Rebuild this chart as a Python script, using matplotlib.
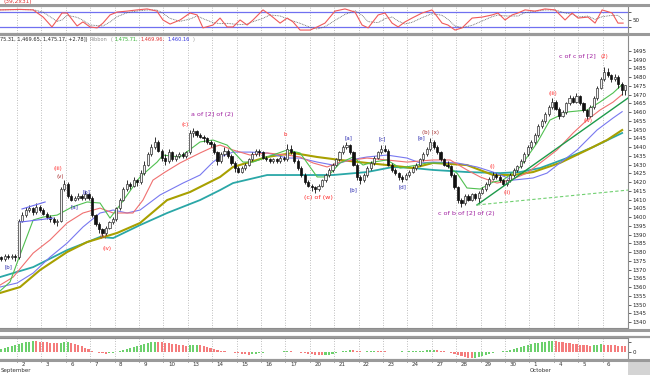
import numpy as np
import pandas as pd
import matplotlib
matplotlib.use('Agg')
import matplotlib.pyplot as plt
from matplotlib.lines import Line2D
from matplotlib.patches import Rectangle
from matplotlib.transforms import blended_transform_factory

# --- data (x in trading days, Sep 1 = day 0) ---
day_labels = ['2', '3', '6', '7', '8', '9', '10', '13', '14', '15', '16', '17', '20',
              '21', '22', '23', '24', '27', '28', '29', '30', '1', '4', '5', '6']
bars_per_day = 7
first_open = 1375

closes = [
    1376, 1377, 1376, 1378, 1377, 1378, 1377,
    1398, 1401, 1404, 1405, 1403, 1406, 1404,
    1402, 1400, 1399, 1397, 1398, 1416, 1419,
    1412, 1410, 1411, 1412, 1411, 1413, 1411,
    1401, 1396, 1393, 1391, 1394, 1397, 1399,
    1405, 1410, 1416, 1419, 1418, 1421, 1420,
    1425, 1430, 1436, 1440, 1443, 1438, 1434,
    1432, 1437, 1433, 1435, 1436, 1435, 1437,
    1448, 1449, 1447, 1446, 1445, 1443, 1442,
    1437, 1432, 1436, 1438, 1435, 1431, 1428,
    1426, 1428, 1430, 1433, 1436, 1438, 1437,
    1434, 1433, 1432, 1433, 1432, 1434, 1433,
    1439, 1437, 1432, 1428, 1424, 1420, 1418,
    1417, 1416, 1418, 1421, 1424, 1427, 1430,
    1433, 1437, 1440, 1441, 1437, 1430, 1423,
    1421, 1424, 1428, 1431, 1434, 1437, 1439,
    1438, 1430, 1427, 1425, 1423, 1422, 1424,
    1426, 1428, 1430, 1433, 1436, 1439, 1443,
    1440, 1437, 1433, 1430, 1429, 1424, 1417,
    1410, 1408, 1412, 1410, 1413, 1411, 1414,
    1416, 1419, 1422, 1424, 1423, 1421, 1419,
    1421, 1424, 1427, 1429, 1432, 1436, 1440,
    1443, 1447, 1452, 1455, 1459, 1463, 1466,
    1462, 1458, 1460, 1465, 1468, 1466, 1469,
    1465, 1461, 1458, 1463, 1468, 1474, 1479,
    1483, 1481, 1479, 1480, 1476, 1472.39, 1475.17,
]
highs = [
    1377, 1378, 1378, 1379, 1379, 1379, 1379,
    1399, 1403, 1406, 1407, 1406, 1408, 1407,
    1405, 1403, 1401, 1400, 1399, 1417, 1421,
    1420, 1413, 1412, 1414, 1413, 1415, 1414,
    1412, 1402, 1397, 1394, 1395, 1398, 1400,
    1406, 1411, 1417, 1421, 1420, 1423, 1422,
    1427, 1432, 1437, 1442, 1446, 1444, 1439,
    1436, 1439, 1438, 1436, 1437, 1437, 1438,
    1450, 1451, 1450, 1448, 1447, 1446, 1444,
    1443, 1438, 1437, 1440, 1439, 1436, 1432,
    1429, 1429, 1431, 1434, 1437, 1439, 1439,
    1438, 1435, 1434, 1434, 1434, 1435, 1435,
    1442, 1441, 1438, 1433, 1429, 1425, 1421,
    1419, 1418, 1419, 1422, 1425, 1428, 1431,
    1434, 1438, 1441, 1443, 1442, 1438, 1431,
    1424, 1425, 1429, 1432, 1435, 1438, 1441,
    1441, 1439, 1431, 1428, 1426, 1424, 1425,
    1427, 1429, 1431, 1434, 1437, 1440, 1445,
    1444, 1441, 1438, 1434, 1432, 1430, 1425,
    1418, 1411, 1413, 1413, 1414, 1414, 1415,
    1417, 1420, 1423, 1426, 1425, 1424, 1422,
    1422, 1425, 1428, 1430, 1433, 1437, 1441,
    1444, 1448, 1453, 1456, 1460, 1464, 1468,
    1467, 1463, 1461, 1466, 1470, 1469, 1471,
    1470, 1466, 1462, 1464, 1469, 1475, 1480,
    1486, 1485, 1482, 1482, 1481, 1477, 1475.31,
]
lows = [
    1374, 1375, 1375, 1375, 1376, 1376, 1375,
    1376, 1397, 1400, 1403, 1401, 1402, 1403,
    1401, 1399, 1397, 1396, 1395, 1397, 1415,
    1411, 1409, 1409, 1410, 1410, 1410, 1410,
    1400, 1395, 1391, 1389, 1390, 1393, 1396,
    1398, 1404, 1409, 1415, 1416, 1417, 1418,
    1419, 1424, 1429, 1435, 1439, 1437, 1432,
    1430, 1431, 1432, 1432, 1434, 1434, 1434,
    1436, 1446, 1446, 1445, 1443, 1442, 1440,
    1436, 1430, 1431, 1435, 1434, 1430, 1426,
    1425, 1425, 1427, 1429, 1432, 1435, 1435,
    1433, 1432, 1431, 1431, 1431, 1431, 1432,
    1432, 1436, 1431, 1427, 1423, 1419, 1417,
    1415, 1414, 1415, 1417, 1420, 1423, 1426,
    1429, 1432, 1436, 1439, 1436, 1429, 1421,
    1419, 1420, 1423, 1427, 1430, 1433, 1436,
    1437, 1429, 1426, 1424, 1421, 1420, 1421,
    1423, 1425, 1427, 1429, 1432, 1435, 1438,
    1439, 1436, 1432, 1429, 1428, 1423, 1416,
    1408, 1406, 1407, 1409, 1409, 1410, 1408,
    1413, 1415, 1418, 1421, 1422, 1420, 1418,
    1418, 1420, 1423, 1426, 1428, 1431, 1435,
    1439, 1442, 1446, 1451, 1454, 1458, 1462,
    1461, 1456, 1457, 1459, 1464, 1465, 1465,
    1464, 1460, 1456, 1457, 1462, 1467, 1473,
    1478, 1480, 1477, 1478, 1474, 1470, 1469.65,
]
hist_vals = [
    2, 3, 3, 4, 5, 6, 7,
    8, 9, 10, 10.5, 11, 10.8, 10.5,
    10.2, 9.8, 9.4, 9, 8.7, 9.2, 9.8,
    10, 9.5, 8.5, 7.5, 6, 4.5, 3,
    1.5, 0.5, -0.5, -1, -1.5, -1, -0.5,
    0.5, 1.5, 2.5, 3.5, 4.5, 5.5, 6.5,
    7.5, 8.5, 9.5, 10, 10.5, 10.3, 10,
    9.5, 9, 8.5, 8, 7.5, 7, 6.5,
    7, 7.2, 7.4, 7, 6, 5, 4,
    3, 2, 1.5, 1, 0.5, 0, -0.5,
    -1, -1.5, -2, -2.5, -2, -1.5, -1,
    -0.5, 0, 0.3, 0.5, 0.3, 0.5, 0.6,
    0.8, 0.6, 0.3, 0, -0.5, -1, -1.5,
    -2, -2.5, -3, -3.3, -3, -2.5, -2,
    -1, 0, 1, 1.5, 2, 1.8, 1.5,
    1, 0.5, 0.8, 1.2, 1.5, 1.3, 1,
    0.8, 0.5, 0.3, 0.2, 0.4, 0.6, 0.5,
    0.6, 0.8, 1, 1.2, 1.5, 1.8, 2,
    2.2, 2, 1.5, 1, 0.5, -0.5, -1.5,
    -2.5, -3.5, -4.5, -5.5, -6, -5.5, -5,
    -4, -3, -2, -1, 0, 0.5, 1,
    1.5, 2, 3, 4, 5, 6, 7,
    8, 9, 9.5, 10, 10.5, 11, 11.2,
    11, 10.5, 10, 9.5, 9, 8.5, 8,
    7.5, 7, 6.8, 6.5, 7, 7.3, 7.6,
    7.5, 7.2, 7, 6.8, 6.5, 6.3, 6,
]

# oscillator (%K)
osc_x = [0.30, 1.12, 1.66, 2.07, 2.43, 2.64, 2.84, 3.05, 3.46, 3.70, 3.99, 4.28, 4.52,
         4.81, 5.10, 5.51, 5.92, 6.33, 6.73, 6.98, 7.27, 7.68, 8.09, 8.38, 8.62, 9.03,
         9.32, 9.61, 9.85, 10.14, 10.43, 10.67, 11.08, 11.37, 11.78, 12.07, 12.31, 12.60,
         13.01, 13.30, 13.62, 14.03, 14.44, 14.85, 15.14, 15.39, 15.80, 16.08, 16.37,
         16.62, 16.90, 17.19, 17.60, 18.01, 18.42, 18.66, 18.95, 19.24, 19.65, 20.06,
         20.47, 20.71, 21.00, 21.29, 21.53, 21.82, 22.23, 22.64, 23.05, 23.46, 23.75,
         23.99, 24.40, 24.69, 24.98, 25.39, 25.63, 25.84]
osc_k = [90, 92, 90, 60, 19, 48, 77, 77, 23, 40, 19, 15, 35, 69, 81, 85, 90, 94, 85, 48,
         31, 48, 77, 69, 15, 27, 56, 19, 19, 48, 27, 48, 90, 69, 35, 56, 40, 6, 6, 19,
         35, 85, 94, 81, 27, 15, 69, 77, 35, 19, 40, 56, 77, 90, 35, 27, 6, 15, 56, 60,
         69, 77, 48, 69, 77, 90, 85, 94, 90, 48, 77, 56, 60, 35, 90, 77, 35, 35]

# moving-average ribbon
green_x = [0.30, 0.71, 1.12, 1.66, 2.07, 2.64, 3.25, 3.87, 4.40, 4.81, 5.22, 6.04, 6.74,
           6.98, 7.68, 8.50, 9.03, 9.61, 10.26, 10.67, 11.25, 12.07, 12.60, 13.30, 13.71,
           14.24, 14.77, 15.18, 15.59, 16.16, 16.70, 17.39, 17.80, 18.46, 19.03, 19.44,
           19.98, 20.51, 20.92, 21.62, 22.31, 22.84, 23.54, 24.36, 24.89, 25.43, 25.80]
green_y = [1357.7, 1362.9, 1378.3, 1398.3, 1400.0, 1401.1, 1405.7, 1408.6, 1408.0, 1399.4,
           1406.9, 1422.9, 1431.4, 1435.4, 1434.3, 1442.9, 1444.0, 1441.1, 1431.4, 1431.4,
           1434.3, 1438.3, 1436.6, 1422.9, 1422.9, 1430.9, 1434.3, 1429.7, 1431.4, 1432.6,
           1428.0, 1429.7, 1430.9, 1430.9, 1425.1, 1416.6, 1416.0, 1420.0, 1421.1, 1428.6,
           1442.3, 1455.4, 1460.0, 1461.1, 1465.7, 1470.9, 1475.7]
red_x = [0.30, 0.84, 1.66, 2.35, 3.05, 3.70, 4.40, 4.94, 5.75, 6.16, 6.57, 7.07, 7.68,
         8.50, 9.03, 9.32, 9.85, 10.55, 11.25, 12.07, 12.60, 13.13, 13.71, 14.24, 14.77,
         15.34, 16.16, 16.98, 18.05, 18.75, 19.44, 19.98, 20.67, 21.20, 21.90, 22.44,
         23.13, 23.79, 24.36, 24.89, 25.43, 25.80]
red_y = [1361.1, 1365.7, 1379.4, 1386.9, 1396.6, 1402.3, 1405.1, 1402.3, 1402.3, 1409.7,
         1421.1, 1425.7, 1430.9, 1436.6, 1440.0, 1441.1, 1438.3, 1435.4, 1436.6, 1435.4,
         1434.3, 1430.9, 1428.6, 1431.4, 1432.6, 1433.7, 1432.6, 1431.4, 1432.6, 1432.6,
         1426.9, 1422.9, 1419.4, 1421.1, 1425.1, 1430.9, 1438.3, 1448.0, 1455.4, 1461.1,
         1465.7, 1470.0]
blue_x = [0.30, 1.00, 1.66, 2.35, 3.05, 3.70, 4.40, 4.94, 5.51, 6.04, 6.86, 7.80, 8.50,
          9.03, 9.32, 9.85, 10.55, 11.25, 12.07, 12.60, 13.30, 13.95, 14.65, 15.34, 16.16,
          16.98, 17.52, 18.05, 19.03, 19.85, 20.51, 21.33, 22.15, 22.72, 23.25, 23.95,
          24.77, 25.43, 25.80]
blue_y = [1360.0, 1362.3, 1368.0, 1377.1, 1385.1, 1394.3, 1402.3, 1404.0, 1402.3, 1404.0,
          1412.6, 1419.4, 1424.0, 1431.4, 1434.3, 1437.1, 1437.1, 1436.6, 1433.7, 1433.7,
          1431.4, 1429.7, 1432.6, 1434.3, 1435.4, 1433.7, 1430.9, 1431.4, 1430.9, 1428.6,
          1425.7, 1421.1, 1422.3, 1425.1, 1430.9, 1438.3, 1449.7, 1456.6, 1460.2]
olive_x = [0.30, 1.12, 1.94, 3.05, 3.87, 5.10, 6.04, 7.15, 8.09, 9.32, 9.85, 11.25, 12.31,
           13.30, 14.24, 15.34, 16.16, 17.23, 18.05, 19.44, 20.51, 21.33, 22.15, 23.25,
           24.36, 25.18, 25.80]
olive_y = [1356.6, 1360.0, 1369.7, 1380.0, 1385.7, 1390.9, 1396.6, 1409.7, 1414.3, 1422.9,
           1428.6, 1434.3, 1436.6, 1434.3, 1432.6, 1430.9, 1429.7, 1428.0, 1430.9, 1429.7,
           1424.0, 1424.0, 1425.7, 1430.9, 1438.3, 1444.0, 1449.7]
teal_x = [0.30, 1.66, 3.05, 4.40, 4.94, 6.04, 7.15, 8.50, 9.32, 9.85, 11.25, 12.60, 13.95,
          15.34, 16.41, 17.23, 18.05, 19.44, 20.80, 21.62, 22.44, 23.54, 24.61, 25.80]
teal_y = [1365.7, 1371.4, 1381.1, 1388.6, 1388.0, 1395.4, 1402.3, 1409.7, 1415.4, 1419.4,
          1424.0, 1424.0, 1424.0, 1425.7, 1428.6, 1428.0, 1426.9, 1425.7, 1425.1, 1425.7,
          1428.0, 1433.7, 1440.0, 1448.0]

# drawn trendlines: (x0, y0, x1, y1)
trend_solid = (19.85, 1406.9, 26.04, 1468.0)
trend_dashed = (19.85, 1406.9, 26.04, 1415.4)
channel_top = (1.20, 1404.6, 2.15, 1408.6)
channel_bot = (1.12, 1397.1, 2.48, 1399.4)

BLUE_L, RED_L, DRED_L, PURP_L = '#2a2ab0', '#ff2a2a', '#a83232', '#a020a0'
wave_labels = [
    ('[b]', 0.63, 1371.4, BLUE_L), ('(iii)', 2.68, 1428.0, RED_L),
    ('(v)', 2.76, 1422.9, DRED_L), ('[a]', 3.34, 1405.7, BLUE_L),
    ('[b]', 3.83, 1414.3, BLUE_L), ('(x)', 4.52, 1388.6, DRED_L),
    ('(iv)', 4.69, 1382.3, RED_L), ('(c)', 7.89, 1453.1, RED_L),
    ('a of [2] of (2)', 9.0, 1458.3, PURP_L), ('b', 12.0, 1446.9, RED_L),
    ('(c) of (w)', 13.34, 1411.4, RED_L), ('[a]', 14.57, 1445.1, BLUE_L),
    ('[b]', 14.77, 1415.4, BLUE_L), ('[c]', 15.96, 1444.6, BLUE_L),
    ('[d]', 16.78, 1417.1, BLUE_L), ('[e]', 17.56, 1445.1, BLUE_L),
    ('(b) (x)', 17.95, 1448.3, DRED_L), ('c of b of [2] of (2)', 19.4, 1402.3, PURP_L),
    ('(i)', 20.47, 1428.6, RED_L), ('(ii)', 21.08, 1414.3, RED_L),
    ('(iii)', 22.97, 1470.3, RED_L), ('(iv)', 24.40, 1454.9, RED_L),
    ('c of c of [2]', 23.95, 1492.0, PURP_L), ('(2)', 25.06, 1492.0, RED_L),
]

# --- figure ---
W, H = 650, 375
fig = plt.figure(figsize=(6.5, 3.75), dpi=100)


def box(x0, y0, x1, y1):
    return [x0 / W, 1 - y1 / H, (x1 - x0) / W, (y1 - y0) / H]


ax_o = fig.add_axes(box(0, 6, 628, 33))
ax_p = fig.add_axes(box(0, 35, 628, 328))
ax_h = fig.add_axes(box(0, 338, 628, 359))

xmin, xmax = 0.30, 26.04
day_ticks = np.arange(1, len(day_labels) + 1)

for ax in (ax_o, ax_p, ax_h):
    ax.set_xlim(xmin, xmax)
    ax.set_facecolor('white')
    for x in day_ticks:
        ax.axvline(x, color='#a8a8a8', lw=0.6, ls=(0, (1, 2)), zorder=0)
    for s in ax.spines.values():
        s.set_color('#8c8c8c')
        s.set_linewidth(0.8)
    ax.spines['left'].set_visible(False)
    ax.yaxis.tick_right()
    ax.tick_params(axis='y', labelsize=4, length=2, pad=1, width=0.5, colors='#222222')
    ax.set_xticks([])

# price candles
closes = np.array(closes, dtype=float)
highs = np.array(highs, dtype=float)
lows = np.array(lows, dtype=float)
opens = np.r_[first_open, closes[:-1]]
bx = np.arange(len(closes)) / bars_per_day + 0.5 / bars_per_day
up = closes >= opens
body = np.where(np.abs(closes - opens) < 0.4, 0.4, closes - opens)
bw = 0.62 / bars_per_day

ax_p.vlines(bx, lows, highs, color='#111111', lw=0.6, zorder=3)
ax_p.bar(bx[up], body[up], bottom=opens[up], width=bw, color='#f2f2f2',
         edgecolor='#333333', lw=0.5, zorder=4)
ax_p.bar(bx[~up], body[~up], bottom=opens[~up], width=bw, color='#111111',
         edgecolor='#111111', lw=0.5, zorder=4)

# ribbon / moving averages
ax_p.plot(teal_x, teal_y, color='#2aa7a7', lw=1.3, zorder=2)
ax_p.plot(olive_x, olive_y, color='#a8a000', lw=1.5, zorder=2)
ax_p.plot(blue_x, blue_y, color='#7878f0', lw=0.8, zorder=2)
ax_p.plot(red_x, red_y, color='#f07070', lw=0.8, zorder=2)
ax_p.plot(green_x, green_y, color='#50c050', lw=0.8, zorder=2)

ax_p.plot(trend_solid[::2], trend_solid[1::2], color='#1e9a4a', lw=1.0, zorder=5)
ax_p.plot(trend_dashed[::2], trend_dashed[1::2], color='#70d070', lw=0.8,
          ls=(0, (3, 2)), zorder=5)
for seg in (channel_top, channel_bot):
    ax_p.plot(seg[::2], seg[1::2], color='#6a6af0', lw=0.8, zorder=5)

for txt, x, y, c in wave_labels:
    fs = 4.6 if 'of' in txt else 4.0
    ax_p.text(x, y, txt, color=c, fontsize=fs, ha='center', va='center', zorder=6)

ax_p.set_ylim(1336.6, 1504.0)
ax_p.set_yticks(np.arange(1340, 1500, 5))
ax_p.set_yticklabels([str(v) for v in np.arange(1340, 1500, 5)])

# oscillator
osc_d = pd.Series(osc_k).rolling(3, min_periods=1).mean()
ax_o.axhline(80, color='#7070f0', lw=0.9, zorder=1)
ax_o.axhline(20, color='#7070f0', lw=0.9, zorder=1)
ax_o.plot(osc_x, osc_d, color='#606060', lw=0.6, ls=(0, (1, 1)), zorder=2)
ax_o.plot(osc_x, osc_k, color='#f05a5a', lw=0.8, zorder=3)
ax_o.set_ylim(-6.25, 106.25)
ax_o.set_yticks([20, 50, 80])
ax_o.set_yticklabels(['', '50', ''])

# histogram
hv = np.array(hist_vals, dtype=float)
rising = np.r_[True, hv[1:] >= hv[:-1]]
hcol = np.where(rising, '#6cd06c', '#f47c7c')
ax_h.bar(bx, hv, width=0.6 / bars_per_day, color=hcol, zorder=2)
ax_h.set_ylim(-7, 14)
ax_h.set_yticks([0, 10])
ax_h.set_yticklabels(['0', ''])

# day labels under the bottom panel
trans = blended_transform_factory(ax_h.transData, ax_h.transAxes)
for x, lab in zip(day_ticks, day_labels):
    ax_h.plot([x, x], [0, -0.12], transform=trans, color='#777777', lw=0.5, clip_on=False)
    ax_h.text(x + 0.18, -0.28, lab, transform=trans, fontsize=4, color='#333333',
              ha='left', va='center')
fig.text(1 / W, 1 - 370.5 / H, 'September', fontsize=4, color='#333333',
         ha='left', va='center')
ax_h.text(22.0, -0.56, 'October', transform=trans, fontsize=4, color='#333333',
          ha='left', va='center')

# panel separators and header texts
for ypx, lw in ((5, 2.2), (34, 2.2), (330, 2.2), (337, 1.6), (360, 2.2)):
    fig.add_artist(Line2D([0, 1], [1 - ypx / H] * 2, transform=fig.transFigure,
                          color='#9a9a9a', lw=lw))
fig.add_artist(Rectangle((628 / W, 0), 22 / W, 14 / H, transform=fig.transFigure,
                         color='#d4d4d4', lw=0))

fig.text(3 / W, 1 - 1.5 / H, '(39,2x31)', color='#e03030', fontsize=4.2, va='center')

# header line of the price panel, laid out piece by piece
renderer = fig.canvas.get_renderer()
hy = 1 - 39.5 / H
xpx = 0.0
for txt, col in (('75.31, 1,469.65, 1,475.17, +2.78])', '#222222'),
                 ('Ribbon', '#909090'), ('(', '#909090'),
                 ('1,475.71,', '#30b030'), ('1,469.96,', '#e03030'),
                 ('1,460.16', '#3030e0'), (')', '#909090')):
    t = fig.text(xpx / W, hy, txt, color=col, fontsize=3.6, va='center', ha='left')
    xpx += t.get_window_extent(renderer).width + 2.5

fig.savefig('out.png', dpi=100)
